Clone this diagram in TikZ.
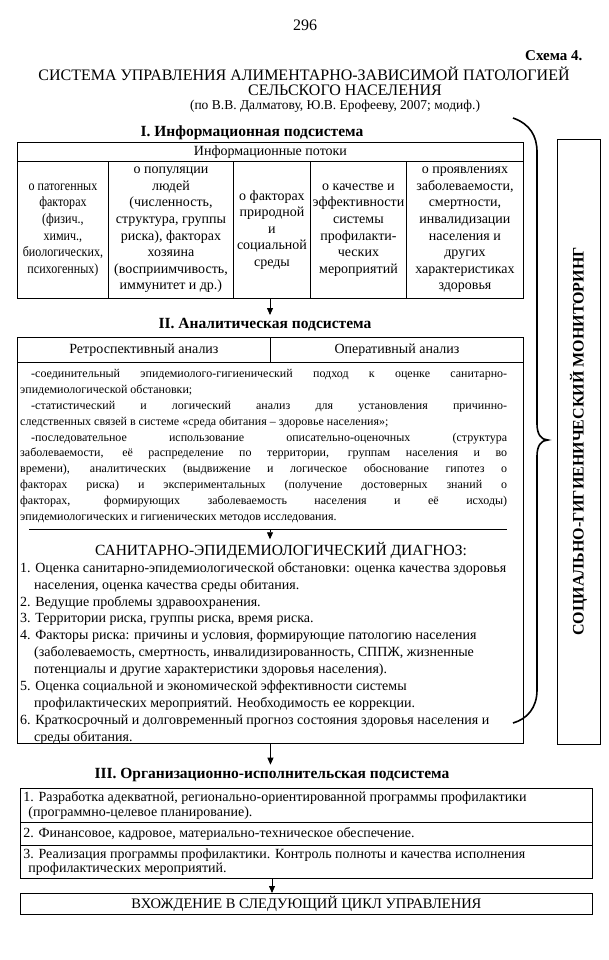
\documentclass[tikz,border=0pt]{standalone}
\usepackage{fontspec}
\setmainfont{Liberation Serif}
\newfontfamily\narrowfont[FakeStretch=0.86]{Liberation Serif}
\usetikzlibrary{arrows.meta,positioning}
\hbadness=10000

\tikzset{
  box/.style={draw, line width=0.9pt, inner sep=0pt},
  cell/.style={box, anchor=north west, minimum height=137pt, align=center,
    font=\fontsize{14}{16.6}\selectfont},
  orgrow/.style={box, anchor=north west, minimum width=572pt, text width=566pt,
    inner xsep=3pt, align=flush left, font=\fontsize{14}{14.5}\selectfont},
  head/.style={font=\fontsize{15.5}{17}\selectfont\bfseries},
  arr/.style={-{Triangle[length=7pt,width=6pt]}, line width=0.8pt},
}

\begin{document}
\begin{tikzpicture}[x=1pt, y=-1pt]
    \useasboundingbox (0, 0) rectangle (609, 960);
    \fill[white] (0, 0) rectangle (609, 960);

    % titles
    \node[font=\fontsize{16}{18}\selectfont] (pnum) at (305, 25) {296};
    \node[anchor=east, font=\fontsize{15}{17}\selectfont\bfseries] (schema) at (586, 56) {Схема 4.};
    \node[font=\fontsize{16}{18}\selectfont] (title1) at (304, 74) {СИСТЕМА УПРАВЛЕНИЯ АЛИМЕНТАРНО-ЗАВИСИМОЙ ПАТОЛОГИЕЙ};
    \node[font=\fontsize{16}{18}\selectfont] (title2) at (345, 90) {СЕЛЬСКОГО НАСЕЛЕНИЯ};
    \node[font=\fontsize{13.5}{15}\selectfont] (subt) at (335, 106) {(по В.В. Далматову, Ю.В. Ерофееву, 2007; модиф.)};

    % I
    \node[head] (h1) at (252, 133) {I. Информационная подсистема};
    \node[box, anchor=north west, minimum width=506pt, minimum height=19pt,
      font=\fontsize{14}{15}\selectfont] (flows) at (17, 142) {Информационные потоки};
    \node[cell, minimum width=91pt, font=\narrowfont\fontsize{14}{16.6}\selectfont] (c1) at (17, 161)
      {о патогенных\\ факторах\\ (физич.,\\ химич.,\\ биологических,\\ психогенных)};
    \node[cell, minimum width=125pt] (c2) at (108, 161)
      {о популяции\\ людей\\ (численность,\\ структура, группы\\ риска), факторах\\ хозяина\\ (восприимчивость,\\ иммунитет и др.)};
    \node[cell, minimum width=77pt] (c3) at (233, 161)
      {о факторах\\ природной\\ и\\ социальной\\ среды};
    \node[cell, minimum width=96pt] (c4) at (310, 161)
      {о качестве и\\ эффективности\\ системы\\ профилакти-\\ ческих\\ мероприятий};
    \node[cell, minimum width=117pt] (c5) at (406, 161)
      {о проявлениях\\ заболеваемости,\\ смертности,\\ инвалидизации\\ населения и\\ других\\ характеристиках\\ здоровья};
    \coordinate (infobot) at (270, 298);

    % II
    \node[head] (h2) at (265, 325) {II. Аналитическая подсистема};
    \draw[arr] (infobot) -- (infobot |- h2.north);
    \node[box, anchor=north west, minimum width=506pt, minimum height=406pt] (anabox) at (17, 337) {};
    \node[box, anchor=north west, minimum width=253pt, minimum height=25pt,
      font=\fontsize{14}{15}\selectfont] (retro) at (17, 337) {Ретроспективный анализ};
    \node[box, anchor=north west, minimum width=253pt, minimum height=25pt,
      font=\fontsize{14}{15}\selectfont] (oper) at (270, 337) {Оперативный анализ};
    \node[anchor=north west, inner sep=0pt, text width=487pt, align=justify,
      font=\fontsize{12}{15.9}\selectfont] (anatext) at (20, 369)
      {\hspace*{11pt}-соединительный эпидемиолого-гигиенический подход к оценке санитарно-\linebreak
       эпидемиологической обстановки;\par
       \hspace*{11pt}-статистический и логический анализ для установления причинно-\linebreak
       следственных связей в системе «среда обитания – здоровье населения»;\par
       \hspace*{11pt}-последовательное использование описательно-оценочных (структура\linebreak
       заболеваемости, её распределение по территории, группам населения и во\linebreak
       времени), аналитических (выдвижение и логическое обоснование гипотез о\linebreak
       факторах риска) и экспериментальных (получение достоверных знаний о\linebreak
       факторах, формирующих заболеваемость населения и её исходы)\linebreak
       эпидемиологических и гигиенических методов исследования.};
    \coordinate (sepl) at (29, 529);
    \coordinate (sepr) at (507, 529);
    \coordinate (sepm) at (270, 529);
    \draw[line width=0.9pt] (sepl) -- (sepr);
    \node[font=\fontsize{15.5}{17}\selectfont] (diagh) at (281, 551) {САНИТАРНО-ЭПИДЕМИОЛОГИЧЕСКИЙ ДИАГНОЗ:};
    \draw[arr] (sepm) -- (sepm |- diagh.north);
    \node[anchor=north west, inner sep=0pt, align=left,
      font=\fontsize{14}{16.9}\selectfont] (diaglist) at (20, 562)
      {1. Оценка санитарно-эпидемиологической обстановки: оценка качества здоровья\\
       \hspace*{14pt}населения, оценка качества среды обитания.\\
       2. Ведущие проблемы здравоохранения.\\
       3. Территории риска, группы риска, время риска.\\
       4. Факторы риска: причины и условия, формирующие патологию населения\\
       \hspace*{14pt}(заболеваемость, смертность, инвалидизированность, СППЖ, жизненные\\
       \hspace*{14pt}потенциалы и другие характеристики здоровья населения).\\
       5. Оценка социальной и экономической эффективности системы\\
       \hspace*{14pt}профилактических мероприятий. Необходимость ее коррекции.\\
       6. Краткосрочный и долговременный прогноз состояния здоровья населения и\\
       \hspace*{14pt}среды обитания.};

    % III
    \node[head] (h3) at (272, 775) {III. Организационно-исполнительская подсистема};
    \draw[arr] (anabox.south) -- (anabox.south |- h3.north);
    \node[orgrow, minimum height=34pt] (org1) at (20, 788)
      {1. Разработка адекватной, регионально-ориентированной программы профилактики\\
       \hspace*{5pt}(программно-целевое планирование).};
    \node[orgrow, minimum height=23pt] (org2) at (20, 822)
      {2. Финансовое, кадровое, материально-техническое обеспечение.};
    \node[orgrow, minimum height=33pt] (org3) at (20, 845)
      {3. Реализация программы профилактики. Контроль полноты и качества исполнения\\
       \hspace*{5pt}профилактических мероприятий.};
    \node[box, anchor=north west, minimum width=572pt, minimum height=21pt,
      font=\fontsize{14.5}{15}\selectfont] (nextc) at (20, 893) {ВХОЖДЕНИЕ В СЛЕДУЮЩИЙ ЦИКЛ УПРАВЛЕНИЯ};
    \draw[arr] (h3.south |- org3.south) -- (h3.south |- nextc.north);

    % monitoring
    \node[box, rotate=90, minimum width=605pt, minimum height=43pt,
      font=\fontsize{16}{18}\selectfont\bfseries] (monit) at (578.5, 441.5) {СОЦИАЛЬНО-ГИГИЕНИЧЕСКИЙ МОНИТОРИНГ};
    \coordinate (btop) at (513, 118);
    \coordinate (btip) at (548, 440);
    \coordinate (bbot) at (513, 723);
    \draw[line width=1.6pt] (btop) .. controls (530, 124) and (537, 136) .. (537, 152)
      -- (537, 424) .. controls (537, 434) and (541, 440) .. (btip)
      .. controls (541, 440) and (537, 446) .. (537, 456)
      -- (537, 690) .. controls (537, 708) and (527, 719) .. (bbot);
\end{tikzpicture}
\end{document}
